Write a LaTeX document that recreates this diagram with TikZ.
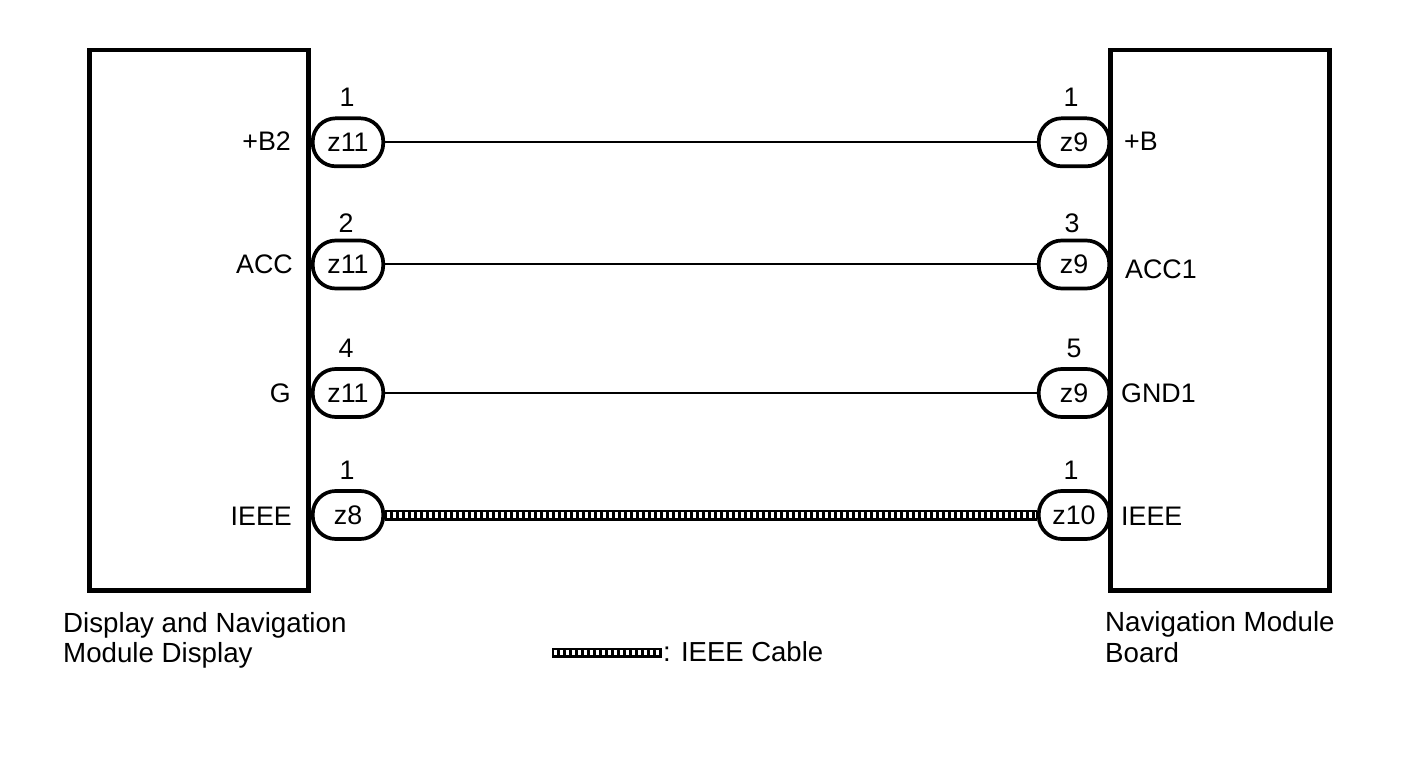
\documentclass[tikz,border=0pt]{standalone}
\usepackage{fontspec}
\setmainfont{Liberation Sans}
\begin{document}
\begin{tikzpicture}[x=1pt,y=-1pt,
  unitbox/.style={draw, line width=4.5pt, minimum width=219pt, minimum height=540.5pt, inner sep=0pt},
  conn/.style={draw, line width=3.7pt, rounded corners=23pt, minimum width=70.5pt, minimum height=48pt, inner sep=0pt, font=\fontsize{26.8}{30}\selectfont},
  pinlbl/.style={font=\fontsize{26.8}{30}\selectfont, inner sep=0pt},
  numlbl/.style={font=\fontsize{26.8}{30}\selectfont, inner sep=0pt, anchor=base},
  caplbl/.style={font=\fontsize{27.7}{31}\selectfont, inner sep=0pt, anchor=base west},
  wire/.style={line width=2pt},
  cableout/.style={line width=11pt},
  cablein/.style={line width=5.5pt, white, dash pattern=on 3pt off 3pt}
]
\useasboundingbox (0,0) rectangle (1424,759);

% units
\node[unitbox] (L) at (199,320.25) {};
\node[unitbox] (R) at (1220,320.25) {};

% connectors left
\node[conn] (c1l) at (348,142.3) {z11};
\node[conn] (c2l) at (348,264.5) {z11};
\node[conn] (c3l) at (348,393) {z11};
\node[conn] (c4l) at (348,515) {z8};
% connectors right
\node[conn] (c1r) at (1074,142.3) {z9};
\node[conn] (c2r) at (1074,264.5) {z9};
\node[conn] (c3r) at (1074,393) {z9};
\node[conn] (c4r) at (1074,515) {z10};

% pin numbers
\node[numlbl] (n1l) at (347,107) {1};
\node[numlbl] (n2l) at (346,232.5) {2};
\node[numlbl] (n3l) at (346,357) {4};
\node[numlbl] (n4l) at (347,479) {1};
\node[numlbl] (n1r) at (1071,107) {1};
\node[numlbl] (n2r) at (1072,232.5) {3};
\node[numlbl] (n3r) at (1074,357) {5};
\node[numlbl] (n4r) at (1071,479) {1};

% pin labels
\node[pinlbl, anchor=base east] (p1l) at (291,150.7) {+B2};
\node[pinlbl, anchor=base east] (p2l) at (293,273.3) {ACC};
\node[pinlbl, anchor=base east] (p3l) at (291,402) {G};
\node[pinlbl, anchor=base east] (p4l) at (292,525) {IEEE};
\node[pinlbl, anchor=base west] (p1r) at (1124,150.7) {+B};
\node[pinlbl, anchor=base west] (p2r) at (1125,278.3) {ACC1};
\node[pinlbl, anchor=base west] (p3r) at (1121,402) {GND1};
\node[pinlbl, anchor=base west] (p4r) at (1121,525) {IEEE};

% wires
\draw[wire] (c1l.east) -- (c1r.west);
\draw[wire] (c2l.east) -- (c2r.west);
\draw[wire] (c3l.east) -- (c3r.west);
\draw[cableout] (c4l.east) -- (c4r.west);
\draw[cablein] ([xshift=1.5pt]c4l.east) -- ([xshift=-1.5pt]c4r.west);

% captions
\node[caplbl] (capL1) at (63,632) {Display and Navigation};
\node[caplbl] (capL2) at (63,662) {Module Display};
\node[caplbl] (capR1) at (1105,631) {Navigation Module};
\node[caplbl] (capR2) at (1105,662) {Board};

% legend
\coordinate (lg1) at (552,652.5);
\coordinate (lg2) at (662,652.5);
\draw[line width=10pt] (lg1) -- (lg2);
\draw[line width=4.5pt, white, dash pattern=on 3pt off 3pt] ([xshift=1.5pt]lg1) -- ([xshift=-1.5pt]lg2);
\node[font=\fontsize{27.5}{30}\selectfont, inner sep=0pt, anchor=base west] (lgt) at (663,661.7) {: IEEE Cable};
\end{tikzpicture}
\end{document}
